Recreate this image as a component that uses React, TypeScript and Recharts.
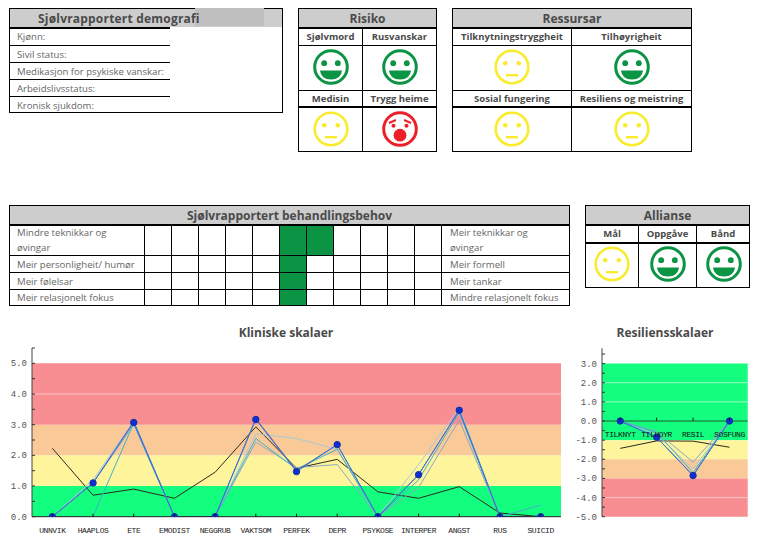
import React from "react";
import { LineChart, Line, XAxis, YAxis, ReferenceArea, ReferenceLine } from "recharts";

const clinicalCats = ["UNNVIK","HAAPLOS","ETE","EMODIST","NEGGRUB","VAKTSOM","PERFEK","DEPR","PSYKOSE","INTERPER","ANGST","RUS","SUICID"];
const clinBlack = [2.23,0.7,0.9,0.6,1.45,2.93,1.58,1.87,0.81,0.6,0.98,0.12,0];
const clinLight = [0,1.2,3.12,0,0,2.7,2.55,2.2,0,1.7,3.55,0,0];
const clinGrey = [0,1.1,3.0,0,0,2.43,1.6,1.7,0,0.95,3.15,0,0];
const clinTeal = [0,0,3.05,0,0,2.55,1.55,2.2,0,1.2,3.4,0,0.38];
const clinPurple = [0,1.1,3.1,0,0,3.2,1.5,2.35,0,1.37,3.47,0,0];
const clinBlue = [0,1.1,3.07,0,0,3.17,1.47,2.35,0,1.37,3.47,0,0];

const resCats = ["TILKNYT","TILHOYR","RESIL","SOSFUNG"];
const resBlack = [-1.43,-1.04,-1.05,-1.37];
const resLight = [0,-0.7,-2.5,0];
const resGrey = [0,-0.55,-2.15,0];
const resTeal = [0,-0.6,-2.7,0];
const resPurple = [0,-0.85,-2.85,0];
const resBlue = [0,-0.85,-2.85,0];

const clinTicks = [0,0.5,1,1.5,2,2.5,3,3.5,4,4.5,5,5.5];
const resTicks = [-5,-4.5,-4,-3.5,-3,-2.5,-2,-1.5,-1,-0.5,0,0.5,1,1.5,2,2.5,3,3.5];

const demoRows = ["Kjønn:","Sivil status:","Medikasjon for psykiske vanskar:","Arbeidslivsstatus:","Kronisk sjukdom:"];
const needLeft = ["Mindre teknikkar og øvingar","Meir personligheit/ humør","Meir følelsar","Meir relasjonelt fokus"];
const needRight = ["Meir teknikkar og øvingar","Meir formell","Meir tankar","Mindre relasjonelt fokus"];
const needFilled = [[5,6],[5],[5],[5]];

const GREEN = "#0b9444", YELLOW = "#f9ec2e", RED = "#ec2028";
const FONT = "'Open Sans', sans-serif";
const MONO = "'Liberation Mono', monospace";

const clinData = clinicalCats.map((c,i)=>({c,black:clinBlack[i],light:clinLight[i],grey:clinGrey[i],teal:clinTeal[i],purple:clinPurple[i],blue:clinBlue[i]}));
const resData = resCats.map((c,i)=>({c,black:resBlack[i],light:resLight[i],grey:resGrey[i],teal:resTeal[i],purple:resPurple[i],blue:resBlue[i]}));

function Smiley({x,y,kind}:{x:number;y:number;kind:"happy"|"neutral"|"shock"}){
  const col = kind==="happy"?GREEN:kind==="neutral"?YELLOW:RED;
  return (
    <svg style={{position:"absolute",left:x-19,top:y-19}} width={38} height={38} viewBox="-19 -19 38 38">
      <circle r={16.3} fill="none" stroke={col} strokeWidth={kind==="neutral"?2.6:3}/>
      {kind==="happy" && <>
        <circle cx={-6.8} cy={-3.8} r={2.9} fill={col}/><circle cx={6.8} cy={-3.8} r={2.9} fill={col}/>
        <path d="M-11 3.5 H11 Q10 12.5 0 12.5 Q-10 12.5 -11 3.5 Z" fill={col}/>
      </>}
      {kind==="neutral" && <>
        <circle cx={-6.8} cy={-3.8} r={2.3} fill={col}/><circle cx={6.8} cy={-3.8} r={2.3} fill={col}/>
        <rect x={-6} y={7} width={12} height={2.4} fill={col}/>
      </>}
      {kind==="shock" && <>
        <path d="M-11 -6 L-4 -9 M11 -6 L4 -9" stroke={col} strokeWidth={2} fill="none"/>
        <circle cx={-6.5} cy={-3.2} r={2} fill={col}/><circle cx={6.5} cy={-3.2} r={2} fill={col}/>
        <circle cx={0} cy={6.2} r={6.4} fill={col}/>
      </>}
    </svg>
  );
}

function Rect({x,y,w,h,bg,border}:{x:number;y:number;w:number;h:number;bg?:string;border?:string}){
  return <div style={{position:"absolute",left:x,top:y,width:w,height:h,background:bg,boxSizing:"border-box",border:border?`${border}`:undefined}}/>;
}
function Label({x,y,w,h,text,bold,size,align,color,spacing,wrap}:{x:number;y:number;w:number;h:number;text:string;bold?:boolean;size?:number;align?:any;color?:string;spacing?:number;wrap?:boolean}){
  return <div style={{position:"absolute",left:x,top:y,width:w,height:h,display:"flex",alignItems:"center",justifyContent:align==="center"?"center":"flex-start",textAlign:align??"left",fontFamily:FONT,fontWeight:bold?700:400,fontSize:size??9.6,color:color??(bold?"#4a4a4a":"#666"),letterSpacing:spacing??0,lineHeight:"15px",whiteSpace:wrap?"normal":"nowrap"}}><span>{text}</span></div>;
}
const H = (x:number,y:number,w:number,t=1)=><Rect x={x} y={y} w={w} h={t} bg="#000"/>;
const V = (x:number,y:number,h:number,t=1)=><Rect x={x} y={y} w={t} h={h} bg="#000"/>;

function YTick(props:any){
  const {x,y,payload}=props; const v=payload.value;
  const whole=Number.isInteger(v);
  return <g>
    <line x1={x} x2={x+3} y1={y} y2={y} stroke="#333" strokeWidth={1}/>
    {whole && <text x={x-5} y={y+3} textAnchor="end" fontFamily={MONO} fontSize={9} fill="#555">{v.toFixed(1)}</text>}
  </g>;
}
function ClinTick(props:any){
  const {x,y,payload}=props;
  return <g>
    <line x1={x} x2={x} y1={y} y2={y-3} stroke="#111"/>
    <text x={x} y={y+16.5} textAnchor="middle" fontFamily={MONO} fontSize={8} letterSpacing={-0.4} fill="#222">{payload.value}</text>
  </g>;
}
function ResTick(props:any){
  const {x,y,payload}=props;
  return <g>
    <line x1={x} x2={x} y1={y-96} y2={y-99} stroke="#111"/>
    <text x={x} y={y-79.5} textAnchor="middle" fontFamily={MONO} fontSize={8} letterSpacing={-0.4} fill="#111">{payload.value}</text>
  </g>;
}
const seriesLines = (
  r:number
)=>[
  <Line key="black" dataKey="black" stroke="#2b2b1e" strokeWidth={1} dot={false} isAnimationActive={false}/>,
  <Line key="light" dataKey="light" stroke="#a6c9d6" strokeWidth={1} dot={false} isAnimationActive={false}/>,
  <Line key="grey" dataKey="grey" stroke="#8ba7c4" strokeWidth={1} dot={false} isAnimationActive={false}/>,
  <Line key="teal" dataKey="teal" stroke="#3fb3c8" strokeWidth={1} dot={false} isAnimationActive={false}/>,
  <Line key="purple" dataKey="purple" stroke="#7d52a6" strokeWidth={1} dot={false} isAnimationActive={false}/>,
  <Line key="blue" dataKey="blue" stroke="#2a7fe0" strokeWidth={1} dot={{r,fill:"#0f2fd6",stroke:"#14309a",strokeWidth:1}} isAnimationActive={false}/>,
];

export default function App(){
  return (
    <div style={{position:"absolute",left:0,top:0,width:761,height:537,background:"#fff",overflow:"hidden"}}>
      {/* Demografi */}
      <Rect x={9} y={8} w={274} h={105} border="1px solid #000"/>
      <Rect x={10} y={9} w={272} h={18} bg="#cdcdcd"/>
      <Rect x={195} y={8} w={69} h={18} bg="#bfbfbf"/>
      <Label x={38} y={9} w={157} h={18} text="Sjølvrapportert demografi" bold size={12} spacing={0.2}/>
      {H(10,27,160,1.5)}{H(10,45,160)}{H(10,62,160)}{H(10,79,160)}{H(10,96,160)}
      {demoRows.map((t,i)=>{const ys=[28,46,63,80,97];return <Label key={t} x={17} y={ys[i]} w={155} h={16} text={t}/>;})}

      {/* Risiko */}
      <Rect x={298} y={8} w={139} h={144} border="1px solid #000"/>
      <Rect x={299} y={9} w={137} h={18} bg="#cdcdcd"/>
      <Label x={299} y={9} w={137} h={18} text="Risiko" bold size={12} align="center"/>
      {H(299,27,137,1.5)}{H(299,45,137)}{H(299,90,137)}{H(299,106,137,1.5)}{V(362,28,123)}
      <Label x={299} y={28} w={63} h={17} text="Sjølvmord" bold size={9.5} align="center"/>
      <Label x={363} y={28} w={73} h={17} text="Rusvanskar" bold size={9.5} align="center"/>
      <Label x={299} y={91} w={63} h={15} text="Medisin" bold size={9.5} align="center"/>
      <Label x={363} y={91} w={73} h={15} text="Trygg heime" bold size={9.5} align="center"/>
      <Smiley x={330.5} y={67} kind="happy"/><Smiley x={400} y={67} kind="happy"/>
      <Smiley x={330.5} y={128.5} kind="neutral"/><Smiley x={400} y={128.5} kind="shock"/>

      {/* Ressursar */}
      <Rect x={452} y={8} w={240} h={144} border="1px solid #000"/>
      <Rect x={453} y={9} w={238} h={18} bg="#cdcdcd"/>
      <Label x={453} y={9} w={238} h={18} text="Ressursar" bold size={12} align="center"/>
      {H(453,27,238,1.5)}{H(453,45,238)}{H(453,90,238)}{H(453,106,238,1.5)}{V(571,28,123)}
      <Label x={453} y={28} w={118} h={17} text="Tilknytningstryggheit" bold size={9.5} align="center"/>
      <Label x={572} y={28} w={119} h={17} text="Tilhøyrigheit" bold size={9.5} align="center"/>
      <Label x={453} y={91} w={118} h={15} text="Sosial fungering" bold size={9.5} align="center"/>
      <Label x={572} y={91} w={119} h={15} text="Resiliens og meistring" bold size={9.5} align="center"/>
      <Smiley x={512} y={67} kind="neutral"/><Smiley x={631.5} y={67} kind="happy"/>
      <Smiley x={512} y={128.5} kind="neutral"/><Smiley x={631.5} y={128.5} kind="neutral"/>

      {/* Behandlingsbehov */}
      <Rect x={9} y={205} w={561} h={101} border="1px solid #000"/>
      <Rect x={10} y={206} w={559} h={18} bg="#cdcdcd"/>
      <Label x={10} y={206} w={559} h={18} text="Sjølvrapportert behandlingsbehov" bold size={12} align="center"/>
      {needFilled.map((cols,r)=>{const ys=[225,256,273,289.5];const hs=[30,16,16,15.5];
        return cols.map(c=><Rect key={r+"-"+c} x={279.5+(c-5)*27} y={ys[r]} w={27} h={hs[r]} bg={GREEN}/>);})}
      {H(10,224,559,1.5)}{H(10,255,559)}{H(10,272,559)}{H(10,289,559)}
      {Array.from({length:12}).map((_,i)=><React.Fragment key={i}>{V(144+i*27,225,80)}</React.Fragment>)}
      {needLeft.map((t,i)=>{const ys=[225,256,273,290];const hs=[30,16,16,15];return <Label key={t} x={17} y={ys[i]} w={i===0?105:125} h={hs[i]} text={t} wrap={i===0}/>;})}
      {needRight.map((t,i)=>{const ys=[225,256,273,290];const hs=[30,16,16,15];return <Label key={t} x={450} y={ys[i]} w={i===0?105:118} h={hs[i]} text={t} wrap={i===0}/>;})}

      {/* Allianse */}
      <Rect x={585} y={205} w={165} h={83} border="1px solid #000"/>
      <Rect x={586} y={206} w={163} h={18} bg="#cdcdcd"/>
      <Label x={586} y={206} w={163} h={18} text="Allianse" bold size={12} align="center"/>
      {H(586,224,163,1.5)}{H(586,242,163,1.5)}{V(638,225,62)}{V(696,225,62)}
      <Label x={586} y={225} w={52} h={17} text="Mål" bold size={9.5} align="center"/>
      <Label x={639} y={225} w={57} h={17} text="Oppgåve" bold size={9.5} align="center"/>
      <Label x={697} y={225} w={52} h={17} text="Bånd" bold size={9.5} align="center"/>
      <Smiley x={612} y={263.5} kind="neutral"/><Smiley x={667.5} y={263.5} kind="happy"/><Smiley x={723.5} y={263.5} kind="happy"/>

      <Label x={140} y={324} w={292} h={17} text="Kliniske skalaer" bold size={12} align="center"/>
      <Label x={570} y={324} w={190} h={17} text="Resiliensskalaer" bold size={12} align="center"/>

      <div style={{position:"absolute",left:0,top:340}}>
        <LineChart width={570} height={197} data={clinData} margin={{left:31,right:9,top:8,bottom:19.3}}>
          <XAxis dataKey="c" scale="band" height={1} tickSize={0} tickMargin={0} interval={0} axisLine={{stroke:"#222"}} tickLine={false} tick={<ClinTick/>}/>
          <YAxis type="number" width={1} domain={[0,5.5]} allowDataOverflow ticks={clinTicks} interval={0} tickSize={0} tickMargin={0} axisLine={{stroke:"#444"}} tickLine={false} tick={<YTick/>}/>
          <ReferenceArea y1={0} y2={1} fill="#13fd7f" fillOpacity={1} stroke="none"/>
          <ReferenceArea y1={1} y2={2} fill="#fdf49b" fillOpacity={1} stroke="none"/>
          <ReferenceArea y1={2} y2={3} fill="#f9c997" fillOpacity={1} stroke="none"/>
          <ReferenceArea y1={3} y2={5} fill="#f88e92" fillOpacity={1} stroke="none"/>
          <ReferenceLine y={4} stroke="#fbc4c6" strokeWidth={1}/>
          {seriesLines(3.2)}
        </LineChart>
      </div>
      <div style={{position:"absolute",left:570,top:340}}>
        <LineChart width={191} height={197} data={resData} margin={{left:31,right:13.3,top:8.3,bottom:19.3}}>
          <XAxis dataKey="c" scale="band" height={1} tickSize={0} tickMargin={0} interval={0} axisLine={false} tickLine={false} tick={<ResTick/>}/>
          <YAxis type="number" width={1} domain={[-5,3.8]} allowDataOverflow ticks={resTicks} interval={0} tickSize={0} tickMargin={0} axisLine={{stroke:"#444"}} tickLine={false} tick={<YTick/>}/>
          <ReferenceArea y1={-1} y2={3} fill="#13fd7f" fillOpacity={1} stroke="none"/>
          <ReferenceArea y1={-2} y2={-1} fill="#fdf49b" fillOpacity={1} stroke="none"/>
          <ReferenceArea y1={-3} y2={-2} fill="#f9c997" fillOpacity={1} stroke="none"/>
          <ReferenceArea y1={-5} y2={-3} fill="#f88e92" fillOpacity={1} stroke="none"/>
          <ReferenceLine y={2} stroke="#9dfdc6"/>
          <ReferenceLine y={1} stroke="#9dfdc6"/>
          <ReferenceLine y={-4} stroke="#fbc4c6"/>
          <ReferenceLine y={0} stroke="#225a30"/>
          {seriesLines(3.2)}
        </LineChart>
      </div>
    </div>
  );
}
